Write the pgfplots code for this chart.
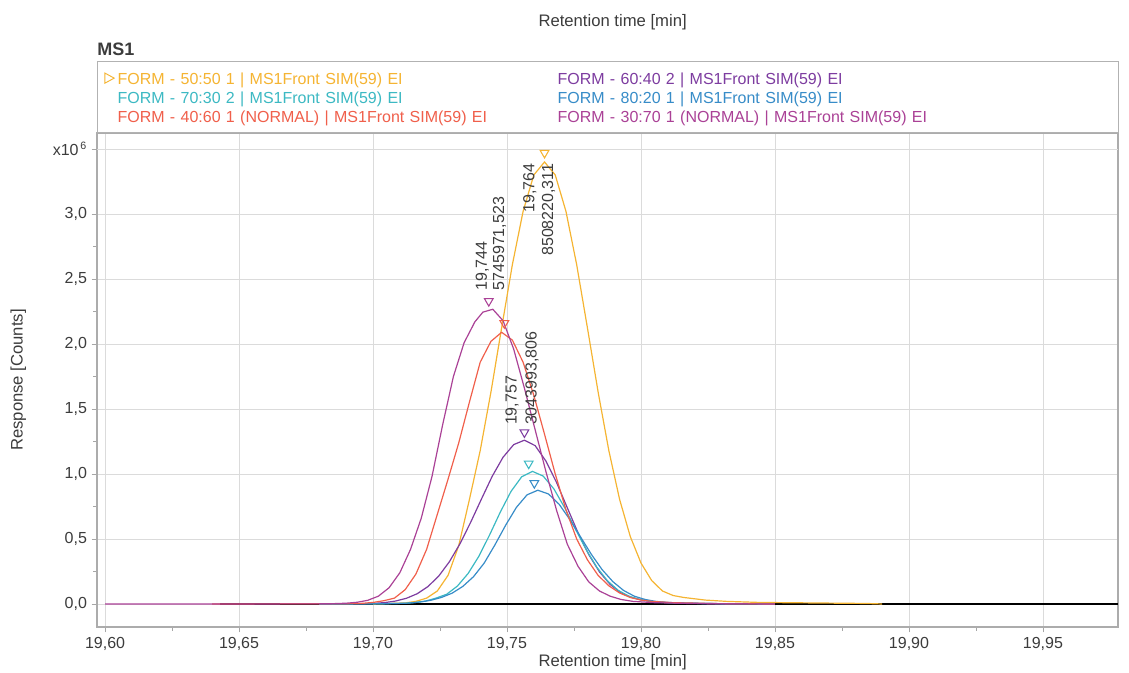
\documentclass[border=0pt]{standalone}
\usepackage{pgfplots}
\pgfplotsset{compat=1.18}
\usepackage{fontspec}
\setmainfont{Liberation Sans}

\definecolor{c5050}{RGB}{245,180,50}
\definecolor{c6040}{RGB}{125,60,160}
\definecolor{c7030}{RGB}{60,185,195}
\definecolor{c8020}{RGB}{55,140,200}
\definecolor{c4060}{RGB}{240,95,75}
\definecolor{c3070}{RGB}{170,65,150}
\definecolor{txt}{RGB}{60,60,60}

\begin{document}
\begin{tikzpicture}
\begin{axis}[
    name=ax,
    scale only axis, width=765.75pt, height=370.5pt,
    xmin=19.597, xmax=19.978, ymin=-0.177, ymax=3.623,
    xtick={19.60,19.65,19.70,19.75,19.80,19.85,19.90,19.95},
    ytick={0,0.5,1.0,1.5,2.0,2.5,3.0},
    minor x tick num=1, minor y tick num=1,
    extra y ticks={3.5}, extra y tick labels={x10\textsuperscript{\,6}},
    extra y tick style={grid=major},
    tick pos=left, tick align=outside,
    major tick length=4pt, minor tick length=3pt,
    every tick/.style={gray!70, line width=0.6pt},
    grid=major, major grid style={gray!28, line width=0.7pt},
    axis line style={gray!65, line width=1pt},
    /pgf/number format/assume math mode=true,
    xticklabel style={/pgf/number format/.cd, fixed, fixed zerofill, precision=2, use comma, 1000 sep={}},
    yticklabel style={/pgf/number format/.cd, fixed, fixed zerofill, precision=1, use comma},
    tick label style={font=\fontsize{12}{14}\selectfont, text=txt},
    xlabel={Retention time [min]}, ylabel={Response [Counts]},
    label style={font=\fontsize{12.5}{14}\selectfont, text=txt},
    xlabel style={at={(axis description cs:0.505,0)}, anchor=center, yshift=-26.25pt},
    ylabel style={at={(axis description cs:0,0.5)}, anchor=center, yshift=59pt},
    title={Retention time [min]},
    title style={at={(axis description cs:0.505,1)}, anchor=center, yshift=77pt, font=\fontsize{12.5}{14}\selectfont, text=txt},
    clip mode=individual,
    legend columns=2,
    legend cell align=left,
    legend style={at={(0,1)}, anchor=south west, draw=gray!60, line width=0.8pt, fill=white,
        inner xsep=2pt, inner ysep=5.5pt, row sep=0.75pt, column sep=0pt,
        font=\fontsize{12}{14}\selectfont,
        nodes={inner sep=1pt, text height=10.5pt, text depth=1pt}},
]
% zero line
\addplot[black, line width=1.1pt, forget plot] coordinates {(19.643,0) (19.978,0)};

% FORM - 50:50 1
\addplot[c5050, line width=0.9pt,
    legend image code/.code={\draw[c5050, line width=0.7pt] (3.5pt,-3.8pt) -- (10.5pt,0pt) -- (3.5pt,3.8pt) -- cycle; \path[draw=none, fill=none] (0pt,0pt) rectangle (12pt,0pt);}]
coordinates {(19.700,0) (19.712,0.008) (19.716,0.02) (19.720,0.045) (19.724,0.10) (19.728,0.22)
 (19.732,0.45) (19.736,0.806) (19.740,1.18) (19.744,1.63) (19.748,2.125) (19.752,2.61)
 (19.756,3.02) (19.760,3.30) (19.764,3.40) (19.768,3.30) (19.772,3.02) (19.776,2.61)
 (19.780,2.125) (19.784,1.63) (19.788,1.18) (19.792,0.806) (19.796,0.519) (19.800,0.315)
 (19.804,0.18) (19.808,0.10) (19.812,0.065) (19.816,0.05) (19.820,0.04) (19.824,0.03)
 (19.832,0.02) (19.844,0.012) (19.864,0.008) (19.884,0.004) (19.890,0)};
\addlegendentry[text=c5050, text width=316pt]{FORM - 50:50 1 | MS1Front SIM(59) EI}

% FORM - 60:40 2
\addplot[c6040, line width=0.9pt, legend image code/.code={\path[draw=none, fill=none] (0pt,0pt) rectangle (12pt,0pt);}]
coordinates {(19.680,0) (19.6965,0.002) (19.7005,0.005) (19.7045,0.011) (19.7085,0.023)
 (19.7125,0.044) (19.7165,0.079) (19.7205,0.134) (19.7245,0.214) (19.7285,0.325)
 (19.7325,0.465) (19.7365,0.631) (19.7405,0.809) (19.7445,0.983) (19.7485,1.128)
 (19.7525,1.226) (19.7565,1.26) (19.7605,1.218) (19.7645,1.10) (19.7685,0.934)
 (19.7725,0.74) (19.7765,0.548) (19.7805,0.38) (19.7845,0.247) (19.7885,0.15)
 (19.7925,0.085) (19.7965,0.05) (19.8005,0.03) (19.8045,0.018) (19.8125,0.008)
 (19.8265,0.003) (19.850,0)};
\addlegendentry[text=c6040, text width=418pt]{FORM - 60:40 2 | MS1Front SIM(59) EI}

% FORM - 70:30 2
\addplot[c7030, line width=0.9pt, legend image code/.code={\path[draw=none, fill=none] (0pt,0pt) rectangle (12pt,0pt);}]
coordinates {(19.680,0) (19.700,0.001) (19.7115,0.005) (19.7155,0.011) (19.7195,0.022)
 (19.7235,0.045) (19.7275,0.075) (19.7315,0.138) (19.7355,0.235) (19.7395,0.367)
 (19.7435,0.531) (19.7475,0.707) (19.7515,0.866) (19.7555,0.979) (19.7595,1.02)
 (19.7635,0.984) (19.7675,0.885) (19.7715,0.741) (19.7755,0.577) (19.7795,0.42)
 (19.7835,0.283) (19.7875,0.178) (19.7915,0.105) (19.7955,0.06) (19.7995,0.035)
 (19.8035,0.02) (19.8075,0.012) (19.8155,0.006) (19.8295,0.002) (19.850,0)};
\addlegendentry[text=c7030, text width=316pt]{FORM - 70:30 2 | MS1Front SIM(59) EI}

% FORM - 80:20 1
\addplot[c8020, line width=0.9pt, legend image code/.code={\path[draw=none, fill=none] (0pt,0pt) rectangle (12pt,0pt);}]
coordinates {(19.680,0) (19.705,0.002) (19.7135,0.007) (19.7175,0.015) (19.7215,0.028)
 (19.7255,0.05) (19.7295,0.083) (19.7335,0.135) (19.7375,0.21) (19.7415,0.315)
 (19.7455,0.455) (19.7495,0.606) (19.7535,0.743) (19.7575,0.84) (19.7615,0.875)
 (19.7655,0.846) (19.7695,0.766) (19.7735,0.648) (19.7775,0.514) (19.7815,0.381)
 (19.7855,0.264) (19.7895,0.172) (19.7935,0.104) (19.7975,0.06) (19.8015,0.035)
 (19.8055,0.02) (19.8095,0.012) (19.8175,0.006) (19.8315,0.002) (19.850,0)};
\addlegendentry[text=c8020, text width=418pt]{FORM - 80:20 1 | MS1Front SIM(59) EI}

% FORM - 40:60 1 (NORMAL)
\addplot[c4060, line width=0.9pt, legend image code/.code={\path[draw=none, fill=none] (0pt,0pt) rectangle (12pt,0pt);}]
coordinates {(19.640,0) (19.690,0.002) (19.696,0.005) (19.700,0.012) (19.704,0.025)
 (19.708,0.045) (19.712,0.11) (19.716,0.23) (19.720,0.42) (19.724,0.69) (19.728,0.96)
 (19.732,1.24) (19.736,1.555) (19.740,1.86) (19.744,2.02) (19.748,2.09) (19.752,2.03)
 (19.756,1.86) (19.760,1.605) (19.764,1.306) (19.768,1.00) (19.772,0.725) (19.776,0.50)
 (19.780,0.34) (19.784,0.22) (19.788,0.14) (19.792,0.085) (19.796,0.05) (19.800,0.03)
 (19.804,0.02) (19.812,0.01) (19.828,0.003) (19.850,0)};
\addlegendentry[text=c4060, text width=316pt]{FORM - 40:60 1 (NORMAL) | MS1Front SIM(59) EI}

% FORM - 30:70 1 (NORMAL)
\addplot[c3070, line width=0.9pt, legend image code/.code={\path[draw=none, fill=none] (0pt,0pt) rectangle (12pt,0pt);}]
coordinates {(19.600,0) (19.640,0) (19.680,0.001) (19.686,0.003) (19.690,0.006) (19.694,0.013)
 (19.698,0.028) (19.702,0.06) (19.706,0.125) (19.710,0.24) (19.714,0.42) (19.718,0.66)
 (19.722,0.98) (19.726,1.38) (19.730,1.75) (19.734,2.01) (19.738,2.17) (19.741,2.245)
 (19.7447,2.267) (19.7485,2.18) (19.7525,1.96) (19.7565,1.66) (19.7605,1.34) (19.7645,1.02)
 (19.7685,0.72) (19.7725,0.46) (19.7765,0.29) (19.7805,0.17) (19.7845,0.10) (19.7885,0.06)
 (19.7925,0.035) (19.797,0.02) (19.805,0.01) (19.820,0.003) (19.850,0)};
\addlegendentry[text=c3070, text width=418pt]{FORM - 30:70 1 (NORMAL) | MS1Front SIM(59) EI}

% peak markers
\addplot[only marks, mark=triangle, mark size=3.8pt, forget plot, mark options={rotate=180, c5050, line width=0.8pt}] coordinates {(19.764,3.47)};
\addplot[only marks, mark=triangle, mark size=3.8pt, forget plot, mark options={rotate=180, c3070, line width=0.8pt}] coordinates {(19.7432,2.33)};
\addplot[only marks, mark=triangle, mark size=3.8pt, forget plot, mark options={rotate=180, c4060, line width=0.8pt}] coordinates {(19.749,2.16)};
\addplot[only marks, mark=triangle, mark size=3.8pt, forget plot, mark options={rotate=180, c6040, line width=0.8pt}] coordinates {(19.7565,1.32)};
\addplot[only marks, mark=triangle, mark size=3.8pt, forget plot, mark options={rotate=180, c7030, line width=0.8pt}] coordinates {(19.7581,1.08)};
\addplot[only marks, mark=triangle, mark size=3.8pt, forget plot, mark options={rotate=180, c8020, line width=0.8pt}] coordinates {(19.7602,0.93)};

% peak annotations
\node[rotate=90, anchor=west, align=left, inner sep=0pt, text=txt, font=\fontsize{12}{13}\selectfont]
  at (axis cs:19.744,2.41) {19,744\\5745971,523};
\node[rotate=90, anchor=east, align=right, inner sep=0pt, text=txt, font=\fontsize{12}{14}\selectfont]
  at (axis cs:19.762,3.39) {19,764\\8508220,311};
\node[rotate=90, anchor=west, align=left, inner sep=0pt, text=txt, font=\fontsize{12}{15}\selectfont]
  at (axis cs:19.7556,1.375) {19,757\\3043993,806};

% panel name
\node[anchor=base west, inner sep=0pt, text=txt, font=\bfseries\fontsize{13.5}{15}\selectfont]
  at ([yshift=57.75pt]rel axis cs:0,1) {MS1};
\end{axis}
\pgfresetboundingbox
\path ([xshift=-72.75pt,yshift=-34.5pt]ax.south west) rectangle ([xshift=8.25pt,yshift=99.75pt]ax.north east);
\end{tikzpicture}
\end{document}
